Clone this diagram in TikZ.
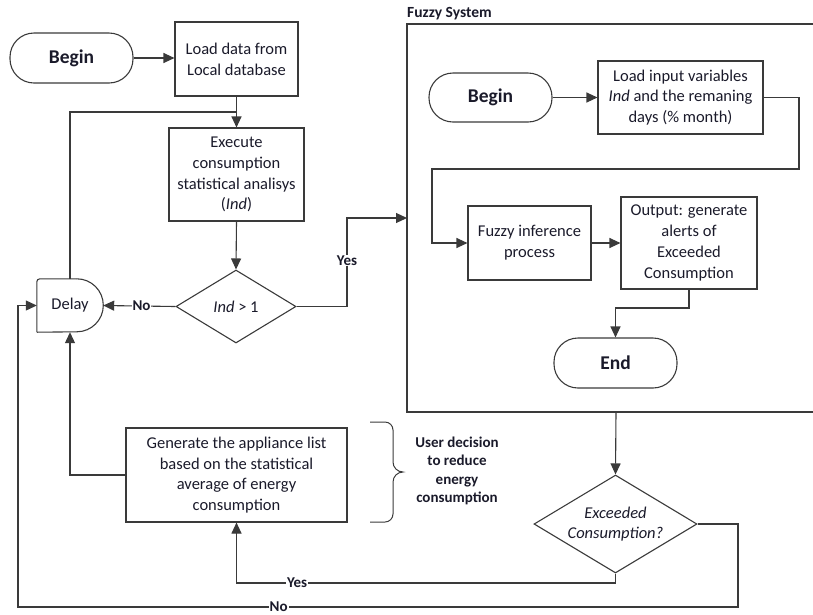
\documentclass[tikz,border=0pt]{standalone}
\usepackage{fontspec}
\setmainfont{Carlito}
\usetikzlibrary{shapes.geometric,arrows.meta}
\definecolor{ln}{HTML}{3A3A3A}
\definecolor{tx}{HTML}{1A1A2A}
\tikzset{
  base/.style={line width=1.1pt, draw=ln, text=tx, align=center, inner sep=2pt},
  boxn/.style={base, rectangle, font=\fontsize{16.5}{20.8}\selectfont},
  term/.style={base, rectangle, rounded corners=24pt, font=\fontsize{19.5}{22}\selectfont\bfseries},
  dec/.style={base, diamond, inner sep=0pt, font=\fontsize{16.5}{20.8}\selectfont},
  conn/.style={line width=1.1pt, draw=ln},
  arr/.style={conn, -{Triangle[length=11pt,width=10pt]}},
  lab/.style={fill=white, inner sep=1pt, text=tx, font=\fontsize{15}{18}\selectfont\bfseries},
}
\begin{document}
\begin{tikzpicture}[x=1pt,y=-1pt]
\useasboundingbox (0,0) rectangle (813,614);
% left part
\node[term, minimum width=123pt, minimum height=50pt] (begin1) at (71.5,58) {Begin};
\node[boxn, minimum width=123pt, minimum height=74pt] (load) at (236.5,59) {Load data from\\Local database};
\node[boxn, minimum width=135pt, minimum height=93pt] (exec) at (236.5,174.5) {Execute\\consumption\\statistical analisys\\(\textit{Ind})};
\node[dec, aspect=1.64, minimum width=120pt, minimum height=73pt] (ind) at (236,306.5) {\textit{Ind} > 1};
\node[minimum width=66pt, minimum height=53pt, inner sep=0pt, text=tx, font=\fontsize{16.5}{20.8}\selectfont] (delay) at (70,305.5) {Delay};
\draw[conn, rounded corners=3pt] (delay.south west) -- (delay.north west) -- ([xshift=40pt]delay.north west);
\draw[conn] ([xshift=40pt]delay.north west) arc[start angle=90, end angle=-90, radius=26.5pt] -- (delay.south west);
\node[boxn, minimum width=221pt, minimum height=94pt] (gen) at (236.5,475) {Generate the appliance list\\based on the statistical\\average of energy\\consumption};
% brace
\draw[conn, line width=1pt] (370,422) -- (385,422) to[out=0,in=90] (393,430) -- (393,462) to[out=-90,in=180] (403,472) to[out=180,in=90] (393,482) -- (393,514) to[out=-90,in=0] (385,522) -- (370,522);
\node[text=tx, align=center, font=\fontsize{15}{18.6}\selectfont\bfseries] (user) at (457,471) {User decision\\to reduce\\energy\\consumption};
% fuzzy container
\draw[conn] (813,24) -- (407,24) -- (407,412) -- (813,412);
\coordinate (fzw) at (407,218);
\coordinate (fzs) at (616,412);
\node[anchor=west, text=tx, inner sep=0pt, font=\fontsize{15.5}{18}\selectfont\bfseries] (ftitle) at (407,14) {Fuzzy System};
\node[term, minimum width=123pt, minimum height=49pt] (begin2) at (490.5,97.5) {Begin};
\node[boxn, minimum width=165pt, minimum height=73pt] (loadin) at (680.5,97.5) {Load input variables\\\textit{Ind} and the remaning\\days (\% month)};
\node[boxn, minimum width=123pt, minimum height=74pt] (fuzzy) at (529.5,243) {Fuzzy inference\\process};
\node[boxn, minimum width=136pt, minimum height=92pt] (out) at (689,243) {Output: generate\\alerts of\\Exceeded\\Consumption};
\node[term, minimum width=123pt, minimum height=50pt] (endn) at (615.5,363) {End};
\node[dec, aspect=1.66, minimum width=163pt, minimum height=98pt] (exc) at (615.5,524) {\textit{Exceeded}\\\textit{Consumption?}};
% connectors
\draw[arr] (begin1.east) -- (begin1.east -| load.west);
\draw[arr] (load.south) -- (exec.north);
\coordinate (j1) at (236.5,112);
\draw[conn] (delay.north) |- (j1);
\draw[arr] (exec.south) -- (ind.north);
\draw[arr] (ind.west) -- node[lab, pos=0.47] {No} (delay.east);
\coordinate (y1) at (347,306.5);
\draw[arr] (ind.east) -- (y1) |- node[lab, pos=0.26] {Yes} (fzw);
\draw[arr] (begin2.east) -- (begin2.east -| loadin.west);
\coordinate (c1) at (799,169);
\coordinate (c2) at (432,169);
\draw[arr] (loadin.east) -| (c1) -- (c2) |- (fuzzy.west);
\draw[arr] (fuzzy.east) -- (out.west);
\coordinate (c3) at (689,308);
\draw[arr] (out.south) -- (c3) -| (endn.north);
\draw[arr] (fzs) -- (exc.north);
\coordinate (c4) at (615.5,583);
\draw[arr] (exc.south) -- (c4) -| node[lab, pos=0.42] {Yes} (gen.south);
\coordinate (c5) at (738,607);
\coordinate (c6) at (18,607);
\draw[arr] (exc.east) -| (c5) -- node[lab, pos=0.638] {No} (c6) |- (delay.west);
\draw[arr] (gen.west) -| (delay.south);
\end{tikzpicture}
\end{document}
